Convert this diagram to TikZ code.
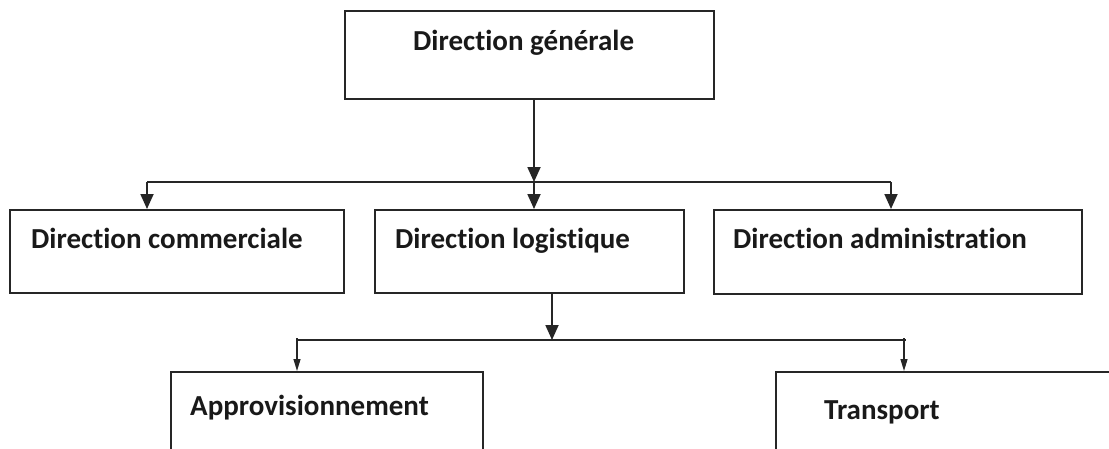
\documentclass[tikz,border=0pt]{standalone}
\usepackage{fontspec}
\setmainfont{Carlito}[Ligatures={NoCommon}]
\usetikzlibrary{arrows.meta}
\tikzset{
  orgbox/.style={draw=black!85, line width=1.8pt, anchor=north west, inner sep=0pt,
    minimum width=#1},
  orgtext/.style={anchor=base west, inner sep=0pt, font=\fontsize{29}{33}\selectfont\bfseries, text=black!90},
  link/.style={draw=black!85, line width=1.8pt},
  bigarrow/.style={link, -{Triangle[width=13pt,length=15pt]}},
  smallarrow/.style={draw=black!85, line width=1.2pt, -{Triangle[width=7pt,length=12pt]}},
}
\begin{document}
\begin{tikzpicture}[x=1pt,y=-1pt]
  \useasboundingbox (0,0) rectangle (1109,448);
  \clip (0,0) rectangle (1109,448);
  \fill[white] (0,0) rectangle (1109,448);

  % boxes
  \node[orgbox=369pt, minimum height=88pt] (gen) at (344,10) {};
  \node[orgbox=334pt, minimum height=83pt] (com) at (9,209) {};
  \node[orgbox=309pt, minimum height=83pt] (log) at (374,209) {};
  \node[orgbox=368pt, minimum height=84pt] (adm) at (713,209) {};
  \node[orgbox=312pt, minimum height=110pt] (app) at (170,371) {};
  \node[orgbox=360pt, minimum height=110pt] (tra) at (775,371) {};

  % labels
  \node[orgtext] (tgen) at (413,50) {Direction générale};
  \node[orgtext] (tcom) at (31,248) {Direction commerciale};
  \node[orgtext] (tlog) at (395,248) {Direction logistique};
  \node[orgtext] (tadm) at (733,248) {Direction administration};
  \node[orgtext] (tapp) at (190,415) {Approvisionnement};
  \node[orgtext] (ttra) at (824,419) {Transport};

  % junction points
  \coordinate (j1) at (534,182);
  \coordinate (jL) at (147,182);
  \coordinate (jR) at (891,182);
  \coordinate (j2) at (552,340);
  \coordinate (kL) at (297,340);
  \coordinate (kR) at (906,340);

  % first level
  \draw[bigarrow] (gen.south -| j1) -- (j1);
  \draw[link] (jL) -- (jR);
  \draw[bigarrow] (jL) -- (com.north -| jL);
  \draw[bigarrow] (j1) -- (log.north -| j1);
  \draw[bigarrow] (jR) -- (adm.north -| jR);

  % second level
  \draw[bigarrow] (log.south -| j2) -- (j2);
  \draw[link] (kL) -- (kR);
  \draw[smallarrow] ([yshift=2pt]kL) -- (app.north -| kL);
  \draw[smallarrow] ([xshift=-2pt,yshift=2pt]kR) -- ([xshift=-2pt]tra.north -| kR);
\end{tikzpicture}
\end{document}
